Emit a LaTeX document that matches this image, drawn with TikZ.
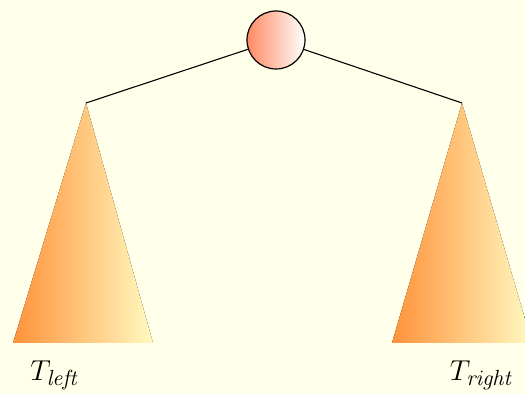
\documentclass[tikz,border=0pt]{standalone}
\usepackage{amsmath}
\usepackage{tikz}
\definecolor{creambg}{RGB}{255,255,234}
\definecolor{treeorange}{RGB}{255,146,58}
\definecolor{treelight}{RGB}{255,250,192}
\definecolor{rootsalmon}{RGB}{255,138,98}
\begin{document}
\begin{tikzpicture}[x=0.5pt, y=-0.5pt,
      rootnode/.style={circle, draw=black, line width=0.6pt, minimum size=29pt,
                 inner sep=0pt, left color=rootsalmon, right color=white},
      subtree/.style={left color=treeorange, right color=treelight, draw=none},
      edge/.style={line width=0.55pt, black},
      tlabel/.style={font=\fontsize{15}{17}\selectfont, inner sep=0pt}
    ]
    % hintergrund
    \fill[creambg] (0,0) rectangle (525,394);
    \clip (0,0) rectangle (525,394);

    % wurzel und spitzen
    \coordinate (ltop) at (86,103);
    \coordinate (rtop) at (462,103);
    \node[rootnode] (root) at (276,40) {};

    % teilbaeume
    \fill[subtree] (ltop) -- (153,343) -- (13,343) -- cycle;
    \fill[subtree] (rtop) -- (532,343) -- (392,343) -- cycle;

    \draw[edge] (root) -- (ltop);
    \draw[edge] (root) -- (rtop);

    % beschriftung
    \node[tlabel] (lleft) at (55,375) {$T_{\mathit{left}}$};
    \node[tlabel] (lright) at (482,375) {$T_{\mathit{right}}$};
  \end{tikzpicture}
\end{document}
